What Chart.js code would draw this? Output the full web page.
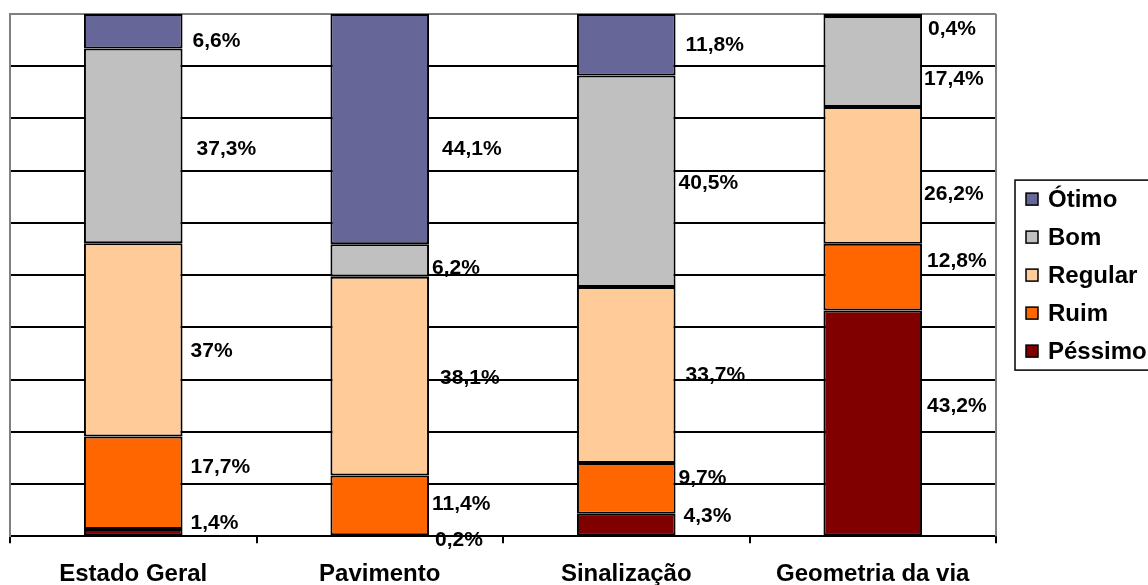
<!DOCTYPE html>
<html>
<head>
<meta charset="utf-8">
<script src="https://cdn.jsdelivr.net/npm/chart.js@4.4.1/dist/chart.umd.min.js"></script>
<style>
  html, body { margin: 0; padding: 0; background: #fff; }
  canvas { display: block; }
</style>
</head>
<body>
<canvas id="chartAvaliacao" width="1148" height="585"></canvas>
<script>
// Dados (%)
const categorias = ["Estado Geral", "Pavimento", "Sinalização", "Geometria da via"];
const otimo   = [6.6, 44.1, 11.8, 0.4];
const bom     = [37.3, 6.2, 40.5, 17.4];
const regular = [37, 38.1, 33.7, 26.2];
const ruim    = [17.7, 11.4, 9.7, 12.8];
const pessimo = [1.4, 0.2, 4.3, 43.2];

// Cores estilo Excel
const COR = {
    otimo: "#666699",
    bom: "#C0C0C0",
    regular: "#FFCC99",
    ruim: "#FF6600",
    pessimo: "#800000",
    grade: "#000000",
    moldura: "#808080"
};
const FONTE = "'Liberation Sans', Arial, sans-serif";

// deslocamento manual das etiquetas [dx a partir da borda da barra, dy a partir do centro do segmento]
const ajusteEtiquetas = {
    "Ótimo":   [[10, 8], [13, 18], [10, -2], [6, 12]],
    "Bom":     [[14, 1], [3, 6], [3, 0], [2, 16]],
    "Regular": [[8, 9], [11, 0], [10, -2], [2, 17]],
    "Ruim":    [[8, -17], [3, -3], [3, -12], [5, -18]],
    "Péssimo": [[8, -11], [6, 3], [8, -10], [5, -19]]
};

const fmt = v => String(v).replace(".", ",") + "%";

const molduraPlugin = {
    id: "moldura",
    beforeDatasetsDraw(chart) {
        const { ctx, chartArea: a } = chart;
        ctx.save();
        ctx.strokeStyle = COR.moldura;
        ctx.lineWidth = 2;
        ctx.beginPath();
        ctx.moveTo(a.right, a.top);
        ctx.lineTo(a.right, a.bottom);
        ctx.stroke();
        ctx.restore();
    }
};

const etiquetasPlugin = {
    id: "etiquetas",
    afterDatasetsDraw(chart) {
        const { ctx } = chart;
        ctx.save();
        ctx.font = "bold 21px " + FONTE;
        ctx.fillStyle = "#000";
        ctx.textAlign = "left";
        ctx.textBaseline = "middle";
        chart.data.datasets.forEach((ds, di) => {
            const meta = chart.getDatasetMeta(di);
            meta.data.forEach((bar, i) => {
                const [dx, dy] = ajusteEtiquetas[ds.label][i];
                const x = bar.x + bar.width / 2 + dx;
                const y = (bar.y + bar.base) / 2 + dy + 2;
                ctx.fillText(fmt(ds.data[i]), x, y);
            });
        });
        ctx.restore();
    }
};

const legendaPlugin = {
    id: "legenda",
    afterDraw(chart) {
        const { ctx, chartArea: a } = chart;
        const itens = chart.data.datasets.slice().reverse();
        const passo = 38;
        const altura = passo * itens.length;
        const left = a.right + 19;
        const top = (a.top + a.bottom) / 2 - altura / 2;
        ctx.save();
        ctx.strokeStyle = "#000";
        ctx.lineWidth = 1.5;
        ctx.strokeRect(left, top, 200, altura);
        ctx.font = "bold 24px " + FONTE;
        ctx.textBaseline = "middle";
        ctx.fillStyle = "#000";
        itens.forEach((ds, i) => {
            const cy = top + passo / 2 + i * passo;
            ctx.fillStyle = ds.backgroundColor;
            ctx.fillRect(left + 11, cy - 6, 12, 12);
            ctx.strokeRect(left + 11, cy - 6, 12, 12);
            ctx.fillStyle = "#000";
            ctx.fillText(ds.label, left + 33, cy + 1);
        });
        ctx.restore();
    }
};

const serie = (label, data, cor) => ({
    label,
    data,
    backgroundColor: cor,
    borderColor: "#000",
    borderWidth: 2,
    borderSkipped: false,
    barPercentage: 0.4,
    categoryPercentage: 1.0
});

const ctxAval = document.getElementById("chartAvaliacao").getContext("2d");

new Chart(ctxAval, {
    type: "bar",
    data: {
        labels: categorias,
        datasets: [
            serie("Péssimo", pessimo, COR.pessimo),
            serie("Ruim", ruim, COR.ruim),
            serie("Regular", regular, COR.regular),
            serie("Bom", bom, COR.bom),
            serie("Ótimo", otimo, COR.otimo)
        ]
    },
    options: {
        responsive: false,
        animation: false,
        devicePixelRatio: 1,
        layout: { padding: { left: 10, top: 14, right: 152, bottom: -21 } },
        plugins: {
            legend: { display: false },
            tooltip: { enabled: false }
        },
        scales: {
            x: {
                stacked: true,
                grid: {
                    drawOnChartArea: false,
                    drawTicks: true,
                    tickLength: 7,
                    color: COR.grade,
                    lineWidth: 2,
                    offset: true
                },
                border: { color: COR.grade, width: 2 },
                ticks: {
                    color: "#000",
                    padding: 17,
                    maxRotation: 0,
                    font: { family: FONTE, size: 24, weight: "bold" }
                }
            },
            y: {
                stacked: true,
                min: 0,
                max: 100,
                ticks: { display: false, stepSize: 10 },
                grid: {
                    drawTicks: false,
                    lineWidth: 2,
                    color: c => c.tick && c.tick.value === 100 ? COR.moldura : COR.grade
                },
                border: { color: COR.moldura, width: 2 }
            }
        }
    },
    plugins: [molduraPlugin, etiquetasPlugin, legendaPlugin]
});
</script>
</body>
</html>
